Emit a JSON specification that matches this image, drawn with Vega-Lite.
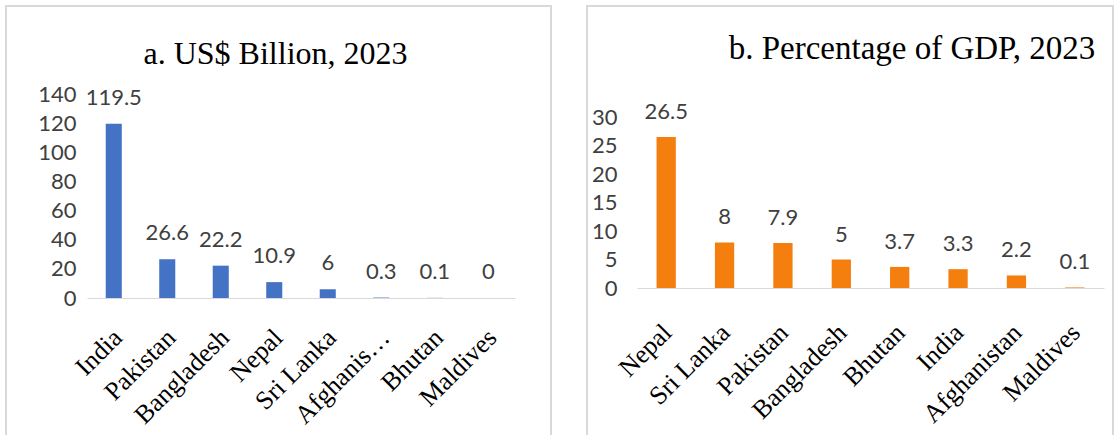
{
  "$schema": "https://vega.github.io/schema/vega-lite/v6.json",
  "padding": {"left": 5, "top": 5, "right": 0, "bottom": 0},
  "spacing": 34,
  "background": "white",
  "config": {
    "view": {"stroke": "#d9d9d9", "strokeWidth": 2},
    "axisX": {"labelFont": "Liberation Serif", "labelFontSize": 26, "labelColor": "#000000", "labelAngle": -45, "ticks": false, "domainColor": "#d9d9d9", "domainWidth": 1, "grid": false, "title": null, "labelPadding": 26, "labelOffset": -5},
    "axisY": {"labelFont": "Lato", "labelFontSize": 22, "labelColor": "#404040", "ticks": false, "domain": false, "grid": false, "title": null, "labelPadding": 0}
  },
  "hconcat": [
    {
      "width": 545,
      "height": 440,
      "title": {"text": "a. US$ Billion,  2023", "font": "Liberation Serif", "fontSize": 32, "fontWeight": "normal", "color": "#000000", "anchor": "middle", "offset": -90, "baseline": "alphabetic", "dx": -3},
      "data": {"values": [
        {"country": "India", "value": 119.5},
        {"country": "Pakistan", "value": 26.6},
        {"country": "Bangladesh", "value": 22.2},
        {"country": "Nepal", "value": 10.9},
        {"country": "Sri Lanka", "value": 6},
        {"country": "Afghanistan", "value": 0.3},
        {"country": "Bhutan", "value": 0.1},
        {"country": "Maldives", "value": 0}
      ]},
      "encoding": {
        "x": {"field": "country", "type": "nominal", "sort": null,
          "scale": {"range": [81, 509], "paddingInner": 0.7, "paddingOuter": 0.35},
          "axis": {"offset": -148, "labelExpr": "datum.label == 'Afghanistan' ? 'Afghanis…' : datum.label"}},
        "y": {"field": "value", "type": "quantitative",
          "scale": {"domain": [0, 140], "range": [292, 88], "nice": false},
          "axis": {"values": [0, 20, 40, 60, 80, 100, 120, 140], "offset": -70}}
      },
      "layer": [
        {"mark": {"type": "bar", "color": "#4472C4"}},
        {"mark": {"type": "text", "baseline": "alphabetic", "dy": -19, "font": "Lato", "fontSize": 22, "color": "#404040"},
         "encoding": {"text": {"field": "value", "type": "nominal"}}}
      ]
    },
    {
      "width": 526,
      "height": 440,
      "title": {"text": "b. Percentage of GDP, 2023", "font": "Liberation Serif", "fontSize": 33, "fontWeight": "normal", "color": "#000000", "anchor": "middle", "offset": -86, "baseline": "alphabetic", "dx": 62},
      "data": {"values": [
        {"country": "Nepal", "value": 26.5},
        {"country": "Sri Lanka", "value": 8},
        {"country": "Pakistan", "value": 7.9},
        {"country": "Bangladesh", "value": 5},
        {"country": "Bhutan", "value": 3.7},
        {"country": "India", "value": 3.3},
        {"country": "Afghanistan", "value": 2.2},
        {"country": "Maldives", "value": 0.1}
      ]},
      "encoding": {
        "x": {"field": "country", "type": "nominal", "sort": null,
          "scale": {"range": [50, 517], "paddingInner": 0.67, "paddingOuter": 0.335},
          "axis": {"offset": -158, "labelPadding": 31, "labelOffset": -8}},
        "y": {"field": "value", "type": "quantitative",
          "scale": {"domain": [0, 30], "range": [282, 111], "nice": false},
          "axis": {"values": [0, 5, 10, 15, 20, 25, 30], "offset": -30}}
      },
      "layer": [
        {"mark": {"type": "bar", "color": "#F47E0E"}},
        {"mark": {"type": "text", "baseline": "alphabetic", "dy": -18, "font": "Lato", "fontSize": 22, "color": "#404040"},
         "encoding": {"text": {"field": "value", "type": "nominal"}}}
      ]
    }
  ]
}
